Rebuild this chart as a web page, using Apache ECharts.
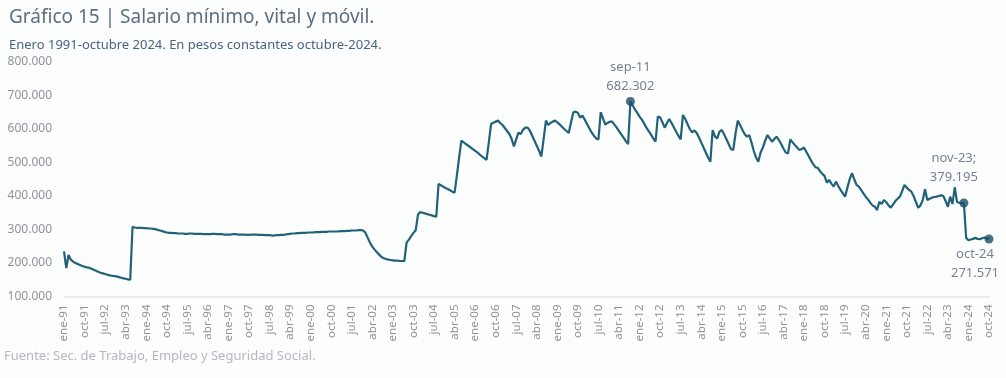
<!DOCTYPE html>
<html>
<head>
<meta charset="utf-8">
<script src="https://cdn.jsdelivr.net/npm/echarts@6/dist/echarts.min.js"></script>
<style>
html,body{margin:0;padding:0;background:#fcfdfd;}
#c{width:1006px;height:378px;}
</style>
</head>
<body>
<div id="c"></div>
<script>
// Monthly values, thousands of constant pesos (Oct-2024)
const monthNames = ['ene','feb','mar','abr','may','jun','jul','ago','sep','oct','nov','dic'];
const years = [1991,1992,1993,1994,1995,1996,1997,1998,1999,2000,2001,2002,2003,2004,2005,2006,2007,2008,2009,2010,2011,2012,2013,2014,2015,2016,2017,2018,2019,2020,2021,2022,2023,2024];
const y1991 = [235,185,224,210,204,200,197,194,191,189,187,186];
const y1992 = [183,180,177,174,171,169,167,165,163,162,161,160];
const y1993 = [158,156,154,153,151,150,308,306,305,305,305,304];
const y1994 = [304,303,303,302,301,299,297,295,293,291,290,290];
const y1995 = [289,289,288,288,288,287,287,288,288,287,287,287];
const y1996 = [287,286,286,286,286,287,287,286,286,286,285,285];
const y1997 = [285,285,286,286,285,285,285,285,284,284,285,285];
const y1998 = [285,284,284,284,283,283,283,282,282,283,283,284];
const y1999 = [284,285,286,287,288,288,289,289,290,290,290,291];
const y2000 = [291,291,292,292,292,293,293,293,294,294,294,294];
const y2001 = [294,295,295,295,296,296,297,297,297,298,298,297];
const y2002 = [290,275,260,249,240,232,225,218,214,212,210,209];
const y2003 = [208,207,207,206,206,206,261,270,280,290,298,345];
const y2004 = [352,350,348,346,344,342,340,338,436,432,428,424];
const y2005 = [421,417,413,410,460,515,565,560,555,550,545,540];
const y2006 = [535,530,524,518,513,508,560,615,619,622,625,618];
const y2007 = [612,603,594,585,570,548,570,589,585,598,604,604];
const y2008 = [595,580,565,550,535,518,570,625,612,618,622,625];
const y2009 = [620,614,607,600,594,588,620,650,652,648,634,640];
const y2010 = [628,615,602,590,580,572,569,650,632,613,618,622];
const y2011 = [622,613,604,594,584,574,564,555,682.302,670,658,648];
const y2012 = [637,628,616,604,594,583,572,562,637,635,620,604];
const y2013 = [618,630,618,605,592,580,569,642,630,615,600,590];
const y2014 = [596,588,575,560,545,530,515,502,597,578,572,592];
const y2015 = [597,584,570,555,540,537,585,625,612,598,585,577];
const y2016 = [582,560,535,515,502,530,545,565,582,572,562,570];
const y2017 = [577,567,555,542,530,527,569,560,552,545,537,540];
const y2018 = [545,532,520,507,495,486,484,474,466,460,440,448];
const y2019 = [437,428,443,430,418,408,398,425,450,468,450,433];
const y2020 = [428,418,408,398,390,380,372,368,358,383,376,388];
const y2021 = [382,372,365,375,385,392,398,415,433,425,418,413];
const y2022 = [400,382,365,372,388,420,388,392,395,397,398,400];
const y2023 = [402,400,385,368,398,376,426,382,380,378,379.195,275];
const y2024 = [268,270,272,275,272,271,274,276,273,271.571];
const yTicks = [100,200,300,400,500,600,700,800];
const highlightCats = ['sep-11','nov-23','oct-24'];

const yearly = [y1991,y1992,y1993,y1994,y1995,y1996,y1997,y1998,y1999,y2000,y2001,y2002,y2003,y2004,y2005,y2006,y2007,y2008,y2009,y2010,y2011,y2012,y2013,y2014,y2015,y2016,y2017,y2018,y2019,y2020,y2021,y2022,y2023,y2024];
const categories = [];
const values = [];
yearly.forEach((arr, yi) => {
  arr.forEach((v, mi) => {
    categories.push(monthNames[mi] + '-' + String(years[yi]).slice(2));
    values.push(v);
  });
});
function fmt(v){
  const n = Math.round(v*1000);
  return String(n).replace(/\B(?=(\d{3})+(?!\d))/g, '.');
}
const hl = highlightCats.map(c => { const i = categories.indexOf(c); return [c, values[i]]; });

const labelStyle = {color:'#56607a', fontSize:13, fontFamily:'Noto Sans', lineHeight:19};
const chart = echarts.init(document.getElementById('c'), null, {renderer:'canvas'});
chart.setOption({
  backgroundColor:'#fcfdfd',
  animation:false,
  title:[
    {text:'Gráfico 15 | Salario mínimo, vital y móvil.', left:4, top:3,
     textStyle:{color:'#5f6d80', fontSize:19, fontWeight:'normal', fontFamily:'Noto Sans'}},
    {text:'Enero 1991-octubre 2024. En pesos constantes octubre-2024.', left:4, top:34,
     textStyle:{color:'#4a6285', fontSize:13, fontWeight:'normal', fontFamily:'Noto Sans'}}
  ],
  grid:{left:64, right:17, top:62, bottom:81.5, containLabel:false},
  xAxis:{
    type:'category', data:categories, boundaryGap:false,
    axisLine:{show:true, lineStyle:{color:'#e1e4e8', width:1.5}},
    axisTick:{show:false},
    axisLabel:{rotate:90, interval:8, color:'#8e939a', fontSize:11.5, fontFamily:'Noto Sans', margin:8}
  },
  yAxis:{
    type:'value', min:yTicks[0], max:yTicks[yTicks.length-1], interval:100,
    axisLine:{show:false}, axisTick:{show:false}, splitLine:{show:false},
    axisLabel:{color:'#8e939a', fontSize:12, fontFamily:'Noto Sans', margin:12, formatter:v=>fmt(v)}
  },
  series:[
    {type:'line', data:values, showSymbol:false, symbol:'none',
     lineStyle:{color:'#21627a', width:2.2}, z:2},
    {type:'scatter', data:[
        {value:hl[0], label:{show:true, position:'top', distance:1, formatter:p=>p.value[0]+'\n'+fmt(p.value[1]), ...labelStyle}},
        {value:hl[1], label:{show:true, position:'top', distance:12, offset:[-10,0], formatter:p=>p.value[0]+';\n'+fmt(p.value[1]), ...labelStyle}},
        {value:hl[2], label:{show:true, position:'bottom', distance:1, offset:[-14,0], formatter:p=>p.value[0]+'\n'+fmt(p.value[1]), ...labelStyle}}
      ],
     symbol:'circle', symbolSize:9, itemStyle:{color:'#1c4c66'}, z:3}
  ],
  graphic:[
    {type:'text', left:4, top:350, style:{text:'Fuente: Sec. de Trabajo, Empleo y Seguridad Social.', fill:'#b4b8bd', fontSize:13, fontFamily:'Noto Sans'}}
  ]
});
</script>
</body>
</html>
